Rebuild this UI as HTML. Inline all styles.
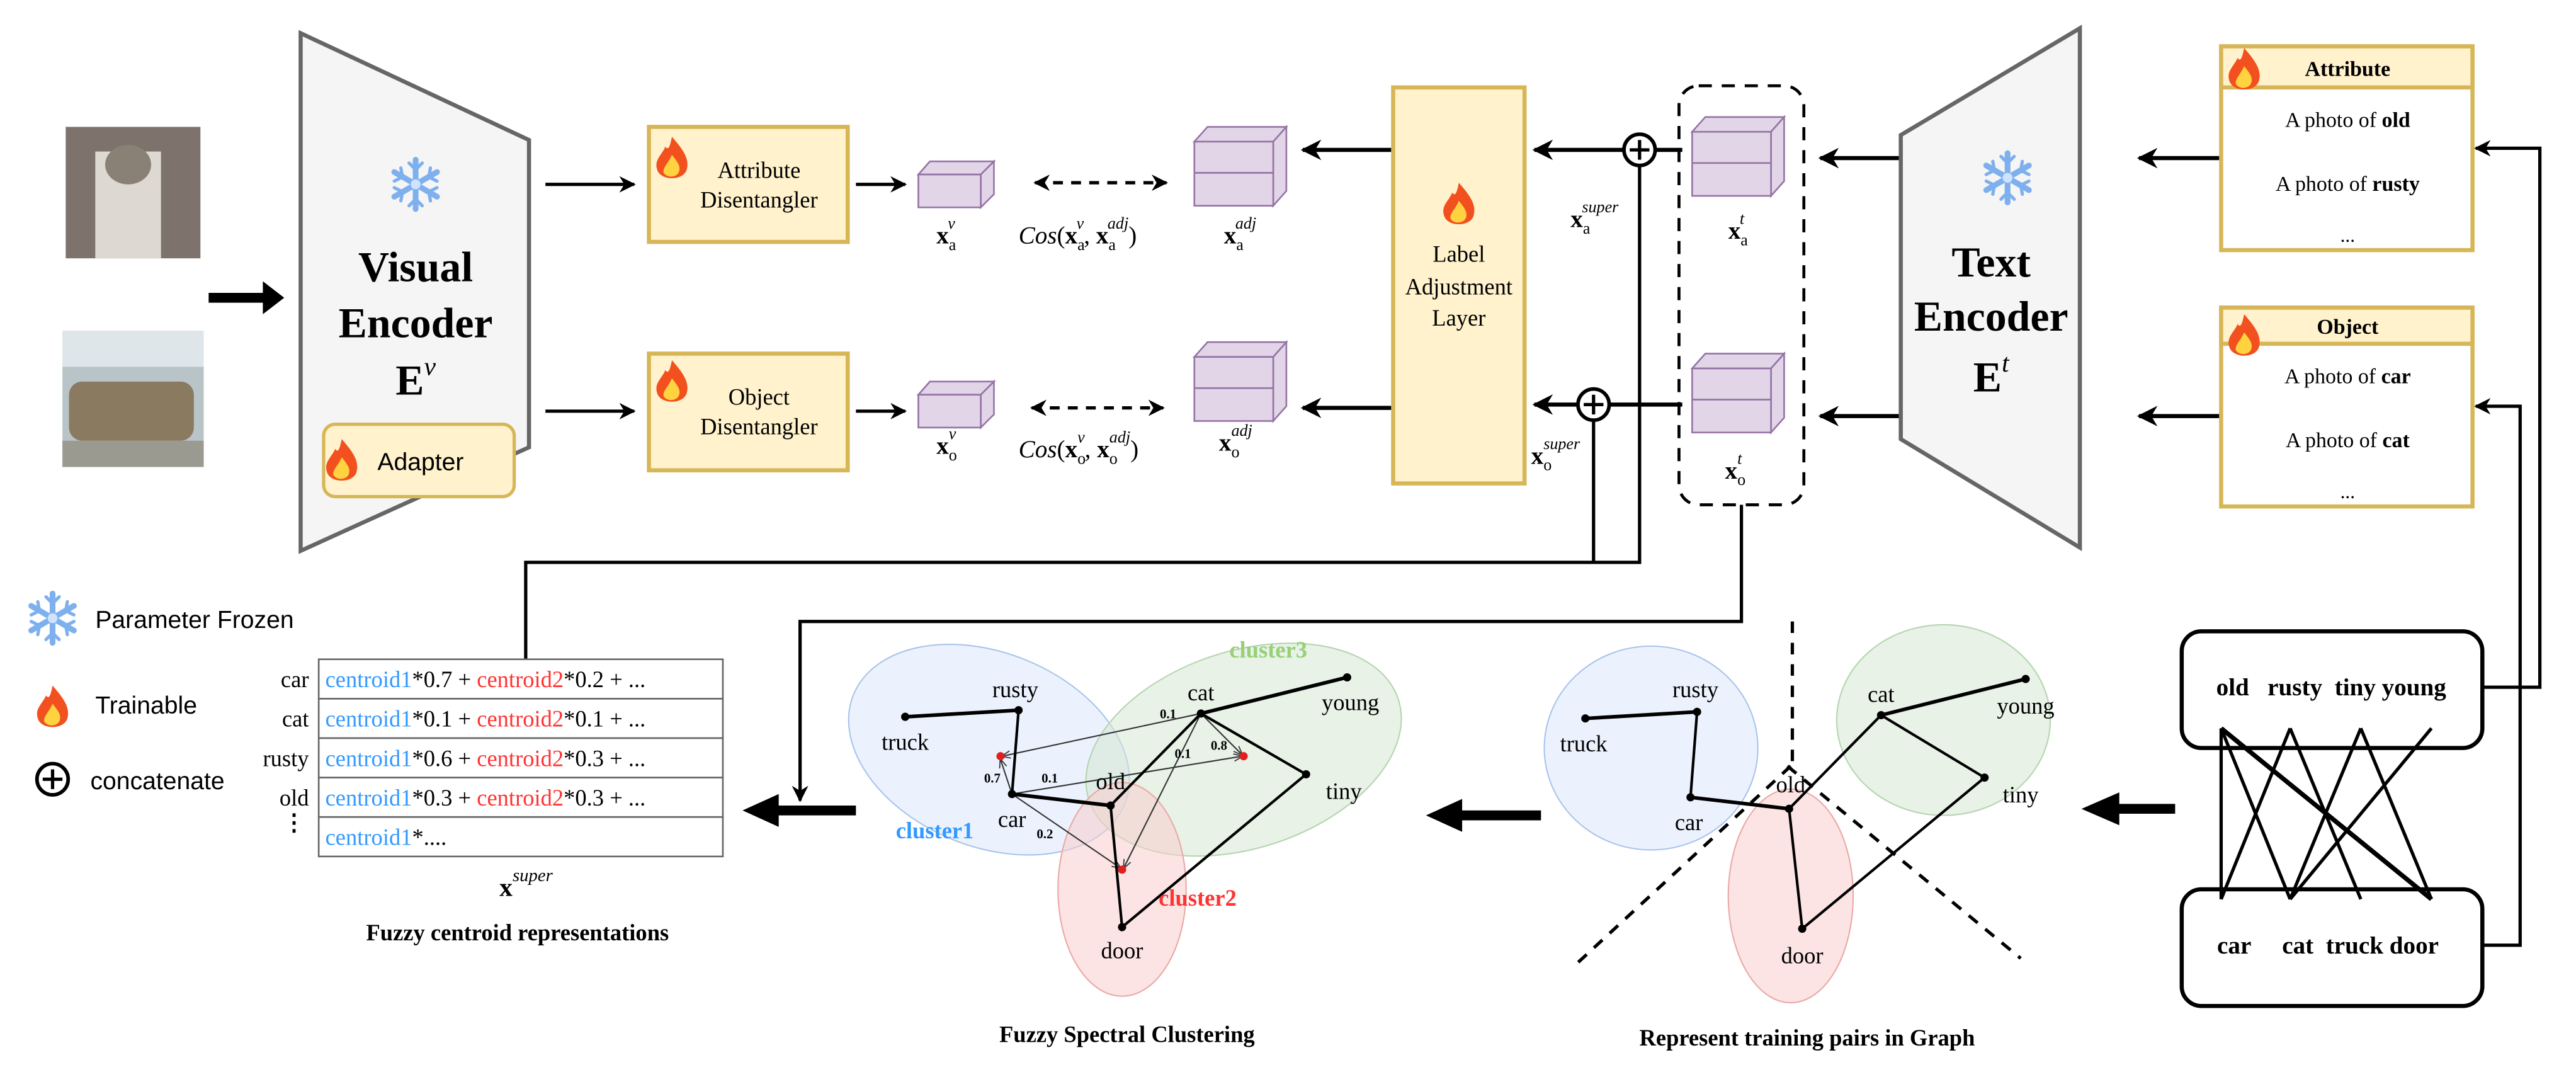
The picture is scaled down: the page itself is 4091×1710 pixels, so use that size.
<!DOCTYPE html>
<html><head><meta charset="utf-8"><style>
html,body{margin:0;padding:0;background:#fff;}
svg{display:block;font-family:"Liberation Serif","Times New Roman",serif;}
.s{font-family:"Liberation Sans",Arial,sans-serif;}
</style></head><body>
<svg width="4091" height="1710" viewBox="0 0 1568 655" xmlns="http://www.w3.org/2000/svg" font-family="Liberation Serif, serif">
<defs>
<marker id="ah" viewBox="0 0 10 10" refX="9" refY="5" markerWidth="5" markerHeight="5" orient="auto-start-reverse"><path d="M0,0 L10,5 L0,10 L3,5z" fill="#000"/></marker>
<marker id="at" viewBox="0 0 10 10" refX="9" refY="5" markerWidth="7" markerHeight="7" orient="auto"><path d="M0,1 L10,5 L0,9" fill="none" stroke="#333" stroke-width="1.2"/></marker>
<g id="fire"><path d="M0,-14 C6,-7 11,-1 9,6 C7,13 -7,13 -9,6 C-11,0 -6,-3 -4,-8 C-2,-5 -1,-9 0,-14Z" fill="#f2501f"/><path d="M0,-3 C3,1 6,4 4,8 C2,11 -3,11 -5,8 C-6,5 -2,2 0,-3Z" fill="#ffd23f"/></g>
<g id="snow" stroke="#7fb0ee" stroke-width="3.5" stroke-linecap="round" fill="none">
<line x1="0" y1="-15" x2="0" y2="15"/><line x1="-13" y1="-7.5" x2="13" y2="7.5"/><line x1="-13" y1="7.5" x2="13" y2="-7.5"/>
<polyline points="-4,-13 0,-9 4,-13" stroke-width="2"/><polyline points="-4,13 0,9 4,13" stroke-width="2"/>
<polyline points="-13,-2 -8,-4.5 -9,-10" stroke-width="2"/><polyline points="13,2 8,4.5 9,10" stroke-width="2"/>
<polyline points="-13,2 -8,4.5 -9,10" stroke-width="2"/><polyline points="13,-2 8,-4.5 9,-10" stroke-width="2"/>
<circle r="3" fill="#cfe3ff" stroke="none"/></g>
<g id="oplus"><circle r="9.5" fill="#fff" stroke="#000" stroke-width="2.2"/><line x1="-6" y1="0" x2="6" y2="0" stroke="#000" stroke-width="2"/><line x1="0" y1="-6" x2="0" y2="6" stroke="#000" stroke-width="2"/></g>
</defs>

<!-- images -->
<rect x="40" y="77" width="82" height="80" fill="#7d736c"/>
<rect x="58" y="92" width="40" height="65" fill="#ddd8d2"/>
<ellipse cx="78" cy="100" rx="14" ry="12" fill="#8a8176"/>
<rect x="38" y="201" width="86" height="83" fill="#b8c4c8"/>
<rect x="38" y="201" width="86" height="22" fill="#dfe6ea"/>
<rect x="42" y="232" width="76" height="36" rx="8" fill="#8a7a60"/>
<rect x="38" y="268" width="86" height="16" fill="#9a9a90"/>

<polygon points="127,178 160,178 160,171 173,181 160,191 160,184 127,184" fill="#000"/>

<!-- visual encoder -->
<polygon points="183,20 322,85 322,272 183,335" fill="#f5f5f5" stroke="#666" stroke-width="2.5"/>
<use href="#snow" x="253" y="112"/>
<text x="253" y="171" font-size="26" font-weight="bold" text-anchor="middle">Visual</text>
<text x="253" y="205" font-size="26" font-weight="bold" text-anchor="middle">Encoder</text>
<text x="253" y="240" font-size="26" font-weight="bold" text-anchor="middle">E<tspan font-style="italic" font-weight="normal" font-size="16" dy="-12">v</tspan></text>
<rect x="197" y="258" width="116" height="44" rx="7" fill="#fff2cc" stroke="#d6b656" stroke-width="2"/>
<use href="#fire" x="208" y="281"/>
<text x="256" y="286" class="s" font-size="15" text-anchor="middle">Adapter</text>

<line x1="332" y1="112" x2="386" y2="112" stroke="#000" stroke-width="2" marker-end="url(#ah)"/>
<line x1="332" y1="250" x2="386" y2="250" stroke="#000" stroke-width="2" marker-end="url(#ah)"/>

<rect x="395" y="77" width="121" height="70" fill="#fff2cc" stroke="#d6b656" stroke-width="2.5"/>
<use href="#fire" x="409" y="97"/>
<text x="462" y="108" font-size="14" text-anchor="middle">Attribute</text>
<text x="462" y="126" font-size="14" text-anchor="middle">Disentangler</text>
<rect x="395" y="215" width="121" height="71" fill="#fff2cc" stroke="#d6b656" stroke-width="2.5"/>
<use href="#fire" x="409" y="233"/>
<text x="462" y="246" font-size="14" text-anchor="middle">Object</text>
<text x="462" y="264" font-size="14" text-anchor="middle">Disentangler</text>

<line x1="521" y1="112" x2="551" y2="112" stroke="#000" stroke-width="2" marker-end="url(#ah)"/>
<line x1="521" y1="250" x2="551" y2="250" stroke="#000" stroke-width="2" marker-end="url(#ah)"/>

<g fill="#e1d5e7" stroke="#9673a6" stroke-width="1">
<polygon points="559,106 566,98 605,98 597,106"/><polygon points="597,106 605,98 605,118 597,126"/><rect x="559" y="106" width="38" height="20"/>
<polygon points="559,240 566,232 605,232 597,240"/><polygon points="597,240 605,232 605,252 597,260"/><rect x="559" y="240" width="38" height="20"/>
<polygon points="727,86 735,77 783,77 775,86"/><polygon points="775,86 783,77 783,116 775,125"/><rect x="727" y="86" width="48" height="19"/><rect x="727" y="105" width="48" height="20"/>
<polygon points="727,217 735,208 783,208 775,217"/><polygon points="775,217 783,208 783,247 775,256"/><rect x="727" y="217" width="48" height="19"/><rect x="727" y="236" width="48" height="20"/>
<polygon points="1030,80 1038,71 1086,71 1078,80"/><polygon points="1078,80 1086,71 1086,110 1078,119"/><rect x="1030" y="80" width="48" height="19"/><rect x="1030" y="99" width="48" height="20"/>
<polygon points="1030,224 1038,215 1086,215 1078,224"/><polygon points="1078,224 1086,215 1086,254 1078,263"/><rect x="1030" y="224" width="48" height="19"/><rect x="1030" y="243" width="48" height="20"/>
</g>

<line x1="630" y1="111" x2="710" y2="111" stroke="#000" stroke-width="2" stroke-dasharray="6,5" marker-start="url(#ah)" marker-end="url(#ah)"/>
<line x1="628" y1="248" x2="708" y2="248" stroke="#000" stroke-width="2" stroke-dasharray="6,5" marker-start="url(#ah)" marker-end="url(#ah)"/>

<g font-size="15">
<text x="570" y="148"><tspan font-weight="bold">x</tspan><tspan font-size="10" dy="4">a</tspan><tspan font-size="10" font-style="italic" dx="-5" dy="-13">v</tspan></text>
<text x="620" y="148"><tspan font-style="italic">Cos</tspan>(<tspan font-weight="bold">x</tspan><tspan font-size="10" dy="4">a</tspan><tspan font-size="10" font-style="italic" dx="-5" dy="-13">v</tspan><tspan dy="9">, </tspan><tspan font-weight="bold">x</tspan><tspan font-size="10" dy="4">a</tspan><tspan font-size="10" font-style="italic" dx="-5" dy="-13">adj</tspan><tspan dy="9">)</tspan></text>
<text x="745" y="148"><tspan font-weight="bold">x</tspan><tspan font-size="10" dy="4">a</tspan><tspan font-size="10" font-style="italic" dx="-5" dy="-13">adj</tspan></text>
<text x="570" y="276"><tspan font-weight="bold">x</tspan><tspan font-size="10" dy="4">o</tspan><tspan font-size="10" font-style="italic" dx="-5" dy="-13">v</tspan></text>
<text x="620" y="278"><tspan font-style="italic">Cos</tspan>(<tspan font-weight="bold">x</tspan><tspan font-size="10" dy="4">o</tspan><tspan font-size="10" font-style="italic" dx="-5" dy="-13">v</tspan><tspan dy="9">, </tspan><tspan font-weight="bold">x</tspan><tspan font-size="10" dy="4">o</tspan><tspan font-size="10" font-style="italic" dx="-5" dy="-13">adj</tspan><tspan dy="9">)</tspan></text>
<text x="742" y="274"><tspan font-weight="bold">x</tspan><tspan font-size="10" dy="4">o</tspan><tspan font-size="10" font-style="italic" dx="-5" dy="-13">adj</tspan></text>
<text x="956" y="138"><tspan font-weight="bold">x</tspan><tspan font-size="10" dy="4">a</tspan><tspan font-size="10" font-style="italic" dx="-5" dy="-13">super</tspan></text>
<text x="932" y="282"><tspan font-weight="bold">x</tspan><tspan font-size="10" dy="4">o</tspan><tspan font-size="10" font-style="italic" dx="-5" dy="-13">super</tspan></text>
<text x="1052" y="145"><tspan font-weight="bold">x</tspan><tspan font-size="10" dy="4">a</tspan><tspan font-size="10" font-style="italic" dx="-5" dy="-13">t</tspan></text>
<text x="1050" y="291"><tspan font-weight="bold">x</tspan><tspan font-size="10" dy="4">o</tspan><tspan font-size="10" font-style="italic" dx="-5" dy="-13">t</tspan></text>
</g>

<line x1="848" y1="91" x2="793" y2="91" stroke="#000" stroke-width="2.5" marker-end="url(#ah)"/>
<line x1="848" y1="248" x2="793" y2="248" stroke="#000" stroke-width="2.5" marker-end="url(#ah)"/>
<rect x="848" y="53" width="80" height="241" fill="#fff2cc" stroke="#d6b656" stroke-width="2.5"/>
<use href="#fire" x="888" y="125"/>
<text x="888" y="159" font-size="14" text-anchor="middle">Label</text>
<text x="888" y="179" font-size="14" text-anchor="middle">Adjustment</text>
<text x="888" y="198" font-size="14" text-anchor="middle">Layer</text>

<line x1="988" y1="91" x2="934" y2="91" stroke="#000" stroke-width="2.5" marker-end="url(#ah)"/>
<line x1="960" y1="246" x2="934" y2="246" stroke="#000" stroke-width="2.5" marker-end="url(#ah)"/>
<line x1="1008" y1="91" x2="1024" y2="91" stroke="#000" stroke-width="2.5"/>
<line x1="980" y1="246" x2="1024" y2="246" stroke="#000" stroke-width="2.5"/>
<polyline points="998,100 998,342 320,342 320,401" fill="none" stroke="#000" stroke-width="2"/>
<line x1="970" y1="255" x2="970" y2="342" stroke="#000" stroke-width="2"/>
<use href="#oplus" x="998" y="91"/>
<use href="#oplus" x="970" y="246"/>

<rect x="1022" y="52" width="76" height="255" rx="12" fill="none" stroke="#000" stroke-width="1.8" stroke-dasharray="8,6"/>
<polyline points="1060,307 1060,378 487,378 487,487" fill="none" stroke="#000" stroke-width="2" marker-end="url(#ah)"/>

<line x1="1157" y1="96" x2="1108" y2="96" stroke="#000" stroke-width="2.5" marker-end="url(#ah)"/>
<line x1="1157" y1="253" x2="1108" y2="253" stroke="#000" stroke-width="2.5" marker-end="url(#ah)"/>
<polygon points="1157,82 1266,17 1266,333 1157,267" fill="#f5f5f5" stroke="#666" stroke-width="2.5"/>
<use href="#snow" x="1222" y="108"/>
<text x="1212" y="168" font-size="26" font-weight="bold" text-anchor="middle">Text</text>
<text x="1212" y="201" font-size="26" font-weight="bold" text-anchor="middle">Encoder</text>
<text x="1212" y="238" font-size="26" font-weight="bold" text-anchor="middle">E<tspan font-style="italic" font-weight="normal" font-size="16" dy="-12">t</tspan></text>

<line x1="1352" y1="96" x2="1302" y2="96" stroke="#000" stroke-width="2.5" marker-end="url(#ah)"/>
<line x1="1352" y1="253" x2="1302" y2="253" stroke="#000" stroke-width="2.5" marker-end="url(#ah)"/>

<rect x="1352" y="28" width="153" height="124" fill="#fff" stroke="#d6b656" stroke-width="2.5"/>
<rect x="1352" y="28" width="153" height="25" fill="#fff2cc" stroke="#d6b656" stroke-width="2.5"/>
<use href="#fire" x="1366" y="43"/>
<text x="1429" y="46" font-size="13" font-weight="bold" text-anchor="middle">Attribute</text>
<text x="1429" y="77" font-size="13" text-anchor="middle">A photo of <tspan font-weight="bold">old</tspan></text>
<text x="1429" y="116" font-size="13" text-anchor="middle">A photo of <tspan font-weight="bold">rusty</tspan></text>
<text x="1429" y="147" font-size="12" text-anchor="middle">...</text>
<rect x="1352" y="187" width="153" height="121" fill="#fff" stroke="#d6b656" stroke-width="2.5"/>
<rect x="1352" y="187" width="153" height="22" fill="#fff2cc" stroke="#d6b656" stroke-width="2.5"/>
<use href="#fire" x="1366" y="205"/>
<text x="1429" y="203" font-size="13" font-weight="bold" text-anchor="middle">Object</text>
<text x="1429" y="233" font-size="13" text-anchor="middle">A photo of <tspan font-weight="bold">car</tspan></text>
<text x="1429" y="272" font-size="13" text-anchor="middle">A photo of <tspan font-weight="bold">cat</tspan></text>
<text x="1429" y="303" font-size="12" text-anchor="middle">...</text>

<polyline points="1511,418 1546,418 1546,90 1507,90" fill="none" stroke="#000" stroke-width="2" marker-end="url(#ah)"/>
<polyline points="1511,575 1534,575 1534,247 1507,247" fill="none" stroke="#000" stroke-width="2" marker-end="url(#ah)"/>

<rect x="1328" y="384" width="183" height="71" rx="12" fill="#fff" stroke="#000" stroke-width="2.5"/>
<rect x="1328" y="541" width="183" height="71" rx="12" fill="#fff" stroke="#000" stroke-width="2.5"/>
<text x="1419" y="423" font-size="15" font-weight="bold" text-anchor="middle">old&#160;&#160; rusty&#160; tiny young</text>
<text x="1417" y="580" font-size="15" font-weight="bold" text-anchor="middle">car&#160;&#160;&#160;&#160; cat&#160; truck door</text>
<g stroke="#000" stroke-width="2" fill="none">
<line x1="1352" y1="443" x2="1352" y2="547"/>
<line x1="1352" y1="443" x2="1394" y2="547"/>
<line x1="1352" y1="443" x2="1480" y2="547" stroke-width="2.8"/>
<line x1="1394" y1="443" x2="1352" y2="547"/>
<line x1="1394" y1="443" x2="1437" y2="547"/>
<line x1="1437" y1="443" x2="1394" y2="547"/>
<line x1="1437" y1="443" x2="1480" y2="547"/>
<line x1="1480" y1="443" x2="1394" y2="547"/>
</g>
<polygon points="1324,489 1290,489 1290,482 1267,492 1290,502 1290,495 1324,495" fill="#000"/>

<!-- graph panel 2 -->
<ellipse cx="1005" cy="455" rx="65" ry="62" fill="#dae8fc" fill-opacity="0.55" stroke="#a9c4eb" stroke-width="0.8"/>
<ellipse cx="1183" cy="438" rx="65" ry="58" fill="#d5e8d4" fill-opacity="0.55" stroke="#b5d5b0" stroke-width="0.8"/>
<ellipse cx="1090" cy="545" rx="38" ry="65" fill="#f8cecc" fill-opacity="0.55" stroke="#eaa9a6" stroke-width="0.8"/>
<g stroke="#000" stroke-dasharray="7,6" stroke-width="2"><line x1="1091" y1="378" x2="1091" y2="464"/><line x1="1090" y1="466" x2="960" y2="586"/><line x1="1088" y1="466" x2="1230" y2="583"/></g>
<g stroke="#000" stroke-width="1.6" fill="none">
<line x1="965" y1="437" x2="1033" y2="433" stroke-width="2.2"/><line x1="1033" y1="433" x2="1029" y2="485"/><line x1="1029" y1="485" x2="1089" y2="492" stroke-width="2.2"/><line x1="1089" y1="492" x2="1097" y2="565"/><line x1="1089" y1="492" x2="1145" y2="435"/><line x1="1145" y1="435" x2="1233" y2="413" stroke-width="2.2"/><line x1="1145" y1="435" x2="1208" y2="473"/><line x1="1208" y1="473" x2="1097" y2="565"/>
</g>
<g fill="#000"><circle cx="965" cy="437" r="2.5"/><circle cx="1033" cy="433" r="2.5"/><circle cx="1029" cy="485" r="2.5"/><circle cx="1089" cy="492" r="2.5"/><circle cx="1097" cy="565" r="2.5"/><circle cx="1145" cy="435" r="2.5"/><circle cx="1233" cy="413" r="2.5"/><circle cx="1208" cy="473" r="2.5"/></g>
<g font-size="14" text-anchor="middle"><text x="1032" y="424">rusty</text><text x="964" y="457">truck</text><text x="1028" y="505">car</text><text x="1090" y="482">old</text><text x="1097" y="586">door</text><text x="1145" y="427">cat</text><text x="1233" y="434">young</text><text x="1230" y="488">tiny</text></g>
<text x="1100" y="636" font-size="14" font-weight="bold" text-anchor="middle">Represent training pairs in Graph</text>
<polygon points="938,493 890,493 890,486 868,496 890,506 890,499 938,499" fill="#000"/>

<!-- graph panel 1 -->
<ellipse cx="602" cy="456" rx="89" ry="59" transform="rotate(22 602 456)" fill="#dae8fc" fill-opacity="0.55" stroke="#a9c4eb" stroke-width="0.8"/>
<ellipse cx="757" cy="456" rx="99" ry="60" transform="rotate(-18 757 456)" fill="#d5e8d4" fill-opacity="0.55" stroke="#b5d5b0" stroke-width="0.8"/>
<ellipse cx="683" cy="541" rx="39" ry="65" fill="#f8cecc" fill-opacity="0.55" stroke="#eaa9a6" stroke-width="0.8"/>
<g stroke="#333" stroke-width="0.8" fill="none" marker-end="url(#at)">
<line x1="731" y1="434" x2="610" y2="460"/><line x1="616" y1="483" x2="609" y2="462"/><line x1="616" y1="483" x2="756" y2="460"/><line x1="616" y1="483" x2="682" y2="528"/><line x1="731" y1="434" x2="684" y2="528"/><line x1="731" y1="434" x2="756" y2="459"/>
</g>
<g stroke="#000" stroke-width="1.6" fill="none">
<line x1="551" y1="436" x2="620" y2="432" stroke-width="2.2"/><line x1="620" y1="432" x2="616" y2="483"/><line x1="616" y1="483" x2="676" y2="490" stroke-width="2.2"/><line x1="676" y1="490" x2="683" y2="564"/><line x1="676" y1="490" x2="731" y2="434"/><line x1="731" y1="434" x2="820" y2="412" stroke-width="2.2"/><line x1="731" y1="434" x2="795" y2="471"/><line x1="795" y1="471" x2="683" y2="564"/>
</g>
<g fill="#000"><circle cx="551" cy="436" r="2.5"/><circle cx="620" cy="432" r="2.5"/><circle cx="616" cy="483" r="2.5"/><circle cx="676" cy="490" r="2.5"/><circle cx="683" cy="564" r="2.5"/><circle cx="731" cy="434" r="2.5"/><circle cx="820" cy="412" r="2.5"/><circle cx="795" cy="471" r="2.5"/></g>
<g fill="#e02020"><circle cx="609" cy="460" r="2.5"/><circle cx="757" cy="460" r="2.5"/><circle cx="683" cy="529" r="2.5"/></g>
<g font-size="14" text-anchor="middle"><text x="618" y="424">rusty</text><text x="551" y="456">truck</text><text x="616" y="503">car</text><text x="676" y="480">old</text><text x="683" y="583">door</text><text x="731" y="426">cat</text><text x="822" y="432">young</text><text x="818" y="486">tiny</text></g>
<g font-size="8" font-weight="bold" text-anchor="middle"><text x="711" y="437">0.1</text><text x="604" y="476">0.7</text><text x="639" y="476">0.1</text><text x="720" y="461">0.1</text><text x="742" y="456">0.8</text><text x="636" y="510">0.2</text></g>
<text x="569" y="510" font-size="14" font-weight="bold" fill="#3399ff" text-anchor="middle">cluster1</text>
<text x="729" y="551" font-size="14" font-weight="bold" fill="#ff3333" text-anchor="middle">cluster2</text>
<text x="772" y="400" font-size="14" font-weight="bold" fill="#97d077" text-anchor="middle">cluster3</text>
<text x="686" y="634" font-size="14" font-weight="bold" text-anchor="middle">Fuzzy Spectral Clustering</text>
<polygon points="521,490 474,490 474,483 452,493 474,503 474,496 521,496" fill="#000"/>

<!-- table -->
<g stroke="#666" stroke-width="1" fill="#fff">
<rect x="194" y="401" width="246" height="24"/><rect x="194" y="425" width="246" height="24"/><rect x="194" y="449" width="246" height="24"/><rect x="194" y="473" width="246" height="24"/><rect x="194" y="497" width="246" height="24"/>
</g>
<g font-size="14">
<text x="188" y="418" text-anchor="end">car</text><text x="188" y="442" text-anchor="end">cat</text><text x="188" y="466" text-anchor="end">rusty</text><text x="188" y="490" text-anchor="end">old</text>
<text x="179" y="505" font-weight="bold" text-anchor="middle">⋮</text>
<text x="198" y="418"><tspan fill="#3399ff">centroid1</tspan>*0.7 + <tspan fill="#ff3333">centroid2</tspan>*0.2 + ...</text>
<text x="198" y="442"><tspan fill="#3399ff">centroid1</tspan>*0.1 + <tspan fill="#ff3333">centroid2</tspan>*0.1 + ...</text>
<text x="198" y="466"><tspan fill="#3399ff">centroid1</tspan>*0.6 + <tspan fill="#ff3333">centroid2</tspan>*0.3 + ...</text>
<text x="198" y="490"><tspan fill="#3399ff">centroid1</tspan>*0.3 + <tspan fill="#ff3333">centroid2</tspan>*0.3 + ...</text>
<text x="198" y="514"><tspan fill="#3399ff">centroid1</tspan>*....</text>
</g>
<text x="304" y="545" font-size="16"><tspan font-weight="bold">x</tspan><tspan font-size="11" font-style="italic" dy="-9">super</tspan></text>
<text x="315" y="572" font-size="14" font-weight="bold" text-anchor="middle">Fuzzy centroid representations</text>

<!-- legend -->
<use href="#snow" x="32" y="376"/>
<text x="58" y="382" class="s" font-size="15" font-family="Liberation Sans, sans-serif">Parameter Frozen</text>
<use href="#fire" x="32" y="431"/>
<text x="58" y="434" class="s" font-size="15" font-family="Liberation Sans, sans-serif">Trainable</text>
<use href="#oplus" x="32" y="474"/>
<text x="55" y="480" class="s" font-size="15" font-family="Liberation Sans, sans-serif">concatenate</text>
</svg>
</body></html>
